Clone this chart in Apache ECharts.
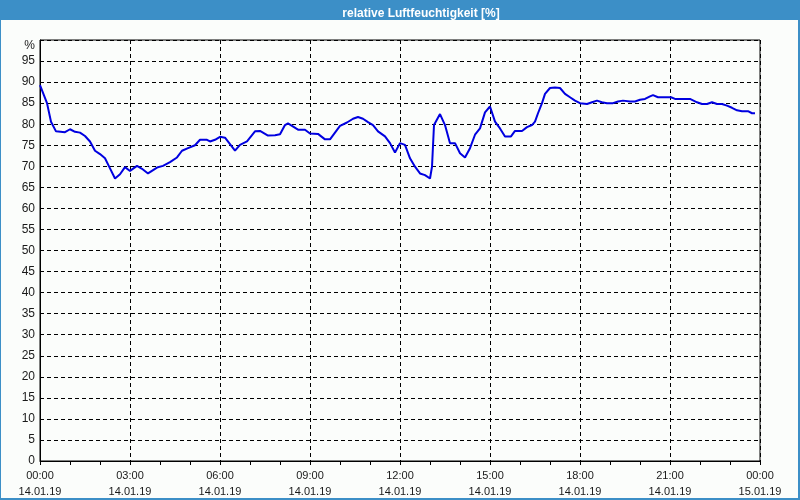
<!DOCTYPE html>
<html>
<head>
<meta charset="utf-8">
<script src="https://cdn.jsdelivr.net/npm/echarts@6/dist/echarts.min.js"></script>
<style>
html,body{margin:0;padding:0;background:#fff;}
#c{width:800px;height:500px;}
</style>
</head>
<body>
<div id="c"></div>
<script>
// minutes after 14.01.19 00:00
var minutes = [0,14,22,32,50,60,70,80,90,100,110,120,130,140,150,160,170,180,194,204,216,234,246,260,274,284,296,310,320,334,340,350,360,370,374,390,400,414,430,440,456,470,480,490,496,504,516,530,540,556,570,580,590,600,614,626,636,646,656,666,676,690,700,710,720,730,740,750,760,770,780,784,788,800,810,820,830,840,850,860,870,880,890,900,910,920,930,942,950,964,974,984,990,996,1004,1010,1020,1030,1040,1050,1060,1070,1080,1094,1104,1114,1124,1134,1146,1156,1166,1180,1190,1200,1210,1220,1226,1236,1250,1262,1270,1286,1300,1314,1324,1334,1344,1354,1364,1374,1384,1394,1404,1416,1424,1430];
var humidity = [89.3,85,80.6,78.3,78.1,78.8,78.2,78,77.2,75.9,73.7,72.9,71.9,69.5,67.1,68.1,69.8,68.9,70.1,69.4,68.3,69.7,70.1,71,72.1,73.7,74.3,75,76.3,76.3,75.9,76.3,77,76.8,76.4,73.7,75.1,75.9,78.3,78.4,77.3,77.4,77.6,79.8,80.2,79.6,78.7,78.7,77.8,77.7,76.4,76.4,78,79.6,80.4,81.3,81.7,81.3,80.5,79.8,78.3,77.1,75.5,73.3,75.5,75.1,71.9,69.9,68.3,67.9,67.1,69.9,79.8,82.4,79.8,75.5,75.5,73.1,72.1,74.3,77.5,79,82.8,84.2,80.6,79,77.1,77.1,78.4,78.4,79.3,79.8,80.6,82.6,85,87.2,88.6,88.7,88.6,87.2,86.4,85.6,85,84.8,85.2,85.6,85.2,85,85,85.4,85.6,85.4,85.4,85.8,86,86.6,86.9,86.4,86.4,86.4,86,86,86,85.2,84.8,84.8,85.2,84.8,84.8,84.4,83.9,83.3,83.1,83.1,82.6,82.6];
var tickMinutes = [0,180,360,540,720,900,1080,1260,1440];
var tickTimes = ['00:00','03:00','06:00','09:00','12:00','15:00','18:00','21:00','00:00'];
var tickDates = ['14.01.19','14.01.19','14.01.19','14.01.19','14.01.19','14.01.19','14.01.19','14.01.19','15.01.19'];
var titleText = 'relative Luftfeuchtigkeit [%]';
var yUnit = '%';

var pts = minutes.map(function(m,i){return [m, humidity[i]];});
var FONT = '"Liberation Sans", Arial, sans-serif';
var BLUE = '#3c8fc7';

var chart = echarts.init(document.getElementById('c'), null, {renderer:'canvas'});
chart.setOption({
  animation:false,
  backgroundColor:'#fbfdfb',
  title:{
    text:titleText, left:416, top:3, textAlign:'center',
    textStyle:{color:'#ffffff', fontFamily:FONT, fontSize:12, fontWeight:'bold'}
  },
  graphic:[
    {type:'rect', left:0, top:0, z:-1, shape:{width:800,height:20}, style:{fill:BLUE}},
    {type:'rect', left:0, top:0, z:-1, shape:{width:1,height:500}, style:{fill:BLUE}},
    {type:'rect', left:798, top:0, z:-1, shape:{width:2,height:500}, style:{fill:BLUE}},
    {type:'rect', left:0, top:498, z:-1, shape:{width:800,height:2}, style:{fill:BLUE}}
  ],
  grid:{left:40, right:40, top:40, bottom:38, show:true, borderColor:'#000', borderWidth:1, backgroundColor:'transparent'},
  xAxis:{
    type:'value', min:0, max:1440, interval:180,
    axisLine:{show:true, lineStyle:{color:'#000', width:1}},
    axisTick:{show:true, inside:false, length:4, lineStyle:{color:'#000'}},
    minorTick:{show:true, splitNumber:3, length:4, lineStyle:{color:'#000'}},
    splitLine:{show:true, lineStyle:{color:'#000', type:[4,3], width:1}},
    axisLabel:{
      show:true, margin:7, color:'#1a1a1a', fontFamily:FONT, fontSize:11, lineHeight:16,
      showMinLabel:true, showMaxLabel:true,
      formatter:function(v){
        var i = tickMinutes.indexOf(v);
        return i<0 ? '' : tickTimes[i] + '\n' + tickDates[i];
      }
    }
  },
  yAxis:{
    type:'value', min:0, max:100, interval:5,
    axisLine:{show:true, lineStyle:{color:'#000', width:1}},
    axisTick:{show:false},
    splitLine:{show:true, lineStyle:{color:'#000', type:[4,3], width:1}},
    axisLabel:{
      show:true, margin:5, color:'#1a1a1a', fontFamily:FONT, fontSize:12,
      showMaxLabel:true,
      formatter:function(v){ return v===100 ? '{p|' + yUnit + '}' : String(v); },
      rich:{p:{fontFamily:FONT, fontSize:12, color:'#1a1a1a', padding:[12,0,0,0]}}
    }
  },
  series:[{
    type:'line', data:pts, showSymbol:false, symbol:'none',
    lineStyle:{color:'#0000e0', width:2}, z:5
  }]
});
</script>
</body>
</html>
